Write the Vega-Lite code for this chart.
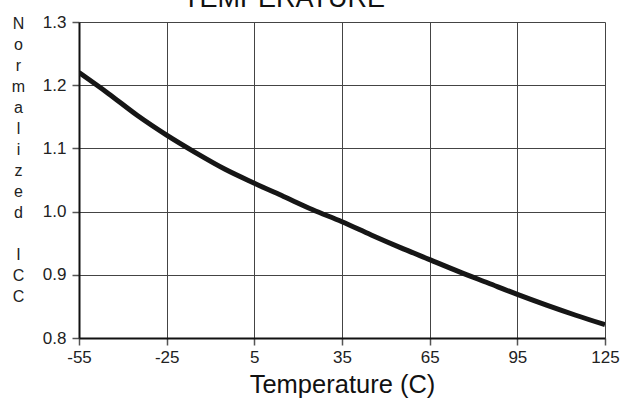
{
  "$schema": "https://vega.github.io/schema/vega-lite/v6.json",
  "autosize": "none",
  "width": 526,
  "height": 316,
  "padding": {"left": 79, "top": 22, "right": 20, "bottom": 65},
  "background": "white",
  "title": {
    "text": "TEMPERATURE",
    "fontSize": 27,
    "font": "Liberation Sans",
    "fontWeight": "normal",
    "color": "#111111",
    "anchor": "middle",
    "dx": -58,
    "baseline": "alphabetic",
    "offset": -21
  },
  "data": {
    "values": [
      {"t": -55, "v": 1.220},
      {"t": -45, "v": 1.187},
      {"t": -35, "v": 1.152},
      {"t": -25, "v": 1.121},
      {"t": -15, "v": 1.093},
      {"t": -5, "v": 1.067},
      {"t": 5, "v": 1.045},
      {"t": 15, "v": 1.024},
      {"t": 25, "v": 1.003},
      {"t": 35, "v": 0.984},
      {"t": 45, "v": 0.963},
      {"t": 55, "v": 0.943},
      {"t": 65, "v": 0.924},
      {"t": 75, "v": 0.905},
      {"t": 85, "v": 0.887},
      {"t": 95, "v": 0.869},
      {"t": 105, "v": 0.852},
      {"t": 115, "v": 0.836},
      {"t": 125, "v": 0.821}
    ]
  },
  "config": {
    "view": {"stroke": null},
    "axis": {
      "labelFont": "Liberation Sans",
      "titleFont": "Liberation Sans",
      "labelFontSize": 17,
      "labelColor": "#222222",
      "gridColor": "#444444",
      "gridOpacity": 1,
      "gridWidth": 1,
      "domainColor": "#111111",
      "domainWidth": 2,
      "tickColor": "#555555",
      "tickSize": 7,
      "tickWidth": 1.5
    }
  },
  "mark": {"type": "line", "color": "#161616", "strokeWidth": 5, "interpolate": "monotone", "clip": true},
  "encoding": {
    "x": {
      "field": "t",
      "type": "quantitative",
      "scale": {"domain": [-55, 125], "nice": false, "zero": false},
      "axis": {
        "values": [-55, -25, 5, 35, 65, 95, 125],
        "labelExpr": "'' + datum.value",
        "title": "Temperature (C)",
        "titleFontSize": 25.5,
        "titleFontWeight": "normal",
        "titleColor": "#111111",
        "titlePadding": 7,
        "labelPadding": 4,
        "labelFlush": false
      }
    },
    "y": {
      "field": "v",
      "type": "quantitative",
      "scale": {"domain": [0.8, 1.3], "nice": false, "zero": false},
      "axis": {
        "values": [0.8, 0.9, 1.0, 1.1, 1.2, 1.3],
        "format": ".1f",
        "labelPadding": 6,
        "title": ["N", "o", "r", "m", "a", "l", "i", "z", "e", "d", "\u200b", "I", "C", "C"],
        "titleAngle": 0,
        "titleFontSize": 16,
        "titleFontWeight": "normal",
        "titleColor": "#222222",
        "titleLineHeight": 21,
        "titleAlign": "center",
        "titleBaseline": "top",
        "titleX": -61,
        "titleY": -7
      }
    }
  }
}
